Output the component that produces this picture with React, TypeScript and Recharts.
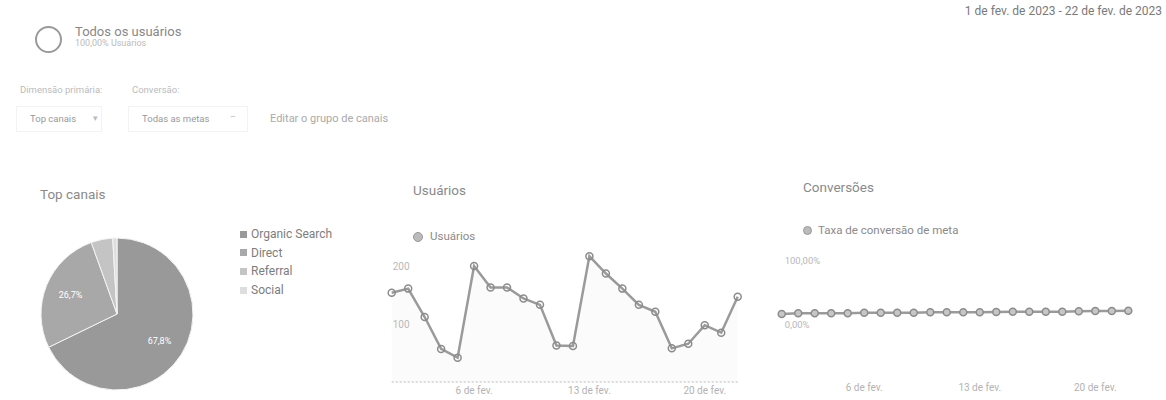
import React from 'react';
import { PieChart, Pie, Cell, AreaChart, Area, LineChart, Line, XAxis, YAxis } from 'recharts';

const dias = [
  '1 de fev.', '2 de fev.', '3 de fev.', '4 de fev.', '5 de fev.', '6 de fev.', '7 de fev.', '8 de fev.',
  '9 de fev.', '10 de fev.', '11 de fev.', '12 de fev.', '13 de fev.', '14 de fev.', '15 de fev.',
  '16 de fev.', '17 de fev.', '18 de fev.', '19 de fev.', '20 de fev.', '21 de fev.', '22 de fev.',
];
const usuarios = [154, 161, 112, 57, 42, 200, 163, 163, 144, 133, 63, 62, 217, 187, 161, 133, 121, 58, 66, 98, 85, 147];
const taxaConversao = [17.1, 18.1, 18.1, 18.1, 18.1, 19.2, 19.2, 19.2, 19.2, 19.7, 19.7, 19.7, 19.7, 20.2, 20.7, 20.7, 20.7, 20.7, 21.2, 21.8, 21.8, 22.3];
const xTicks = ['6 de fev.', '13 de fev.', '20 de fev.'];
const usuariosTicks = [100, 200];
const conversaoTicks = [0, 100];

const canais = ['Organic Search', 'Direct', 'Referral', 'Social'];
const canaisPct = [67.8, 26.7, 4.6, 0.9];
const canaisCores = ['#999999', '#a8a8a8', '#c4c4c4', '#dedede'];

const serie = dias.map((dia, i) => ({ dia, usuarios: usuarios[i], taxa: taxaConversao[i] }));
const pieData = canais.map((nome, i) => ({ nome, valor: canaisPct[i] }));

const FONT = 'Roboto, Arial, sans-serif';
const RAD = Math.PI / 180;

const dotStyle = { r: 3.5, fill: '#c6c6c6', stroke: '#8c8c8c', strokeWidth: 1.5 };

const pieLabel = (p: any) => {
  if (p.percent < 0.1) return null;
  const r = p.outerRadius * 0.66;
  const x = p.cx + r * Math.cos(-p.midAngle * RAD);
  const y = p.cy + r * Math.sin(-p.midAngle * RAD);
  return (
    <text x={x} y={y} fill="#fff" fontSize={9} fontFamily={FONT} textAnchor="middle" dominantBaseline="central">
      {p.value.toFixed(1).replace('.', ',')}%
    </text>
  );
};

const abs = (left: number, top: number, extra: React.CSSProperties = {}): React.CSSProperties => ({
  position: 'absolute', left, top, whiteSpace: 'nowrap', lineHeight: 1, ...extra,
});

export default function App() {
  return (
    <div style={{ position: 'absolute', left: 0, top: 0, width: 1166, height: 400, background: '#fff', overflow: 'hidden', fontFamily: FONT }}>
      {/* cabeçalho */}
      <div style={abs(35, 26, { width: 23, height: 23, border: '2px solid #9a9a9a', borderRadius: '50%' })} />
      <div style={abs(75, 25, { fontSize: 13, color: '#888' })}>Todos os usuários</div>
      <div style={abs(75, 39, { fontSize: 9, color: '#bbb' })}>100,00% Usuários</div>
      <div style={abs(0, 5, { width: 1162, textAlign: 'right', fontSize: 12, color: '#7a7a7a' })}>
        1 de fev. de 2023 - 22 de fev. de 2023
      </div>

      <div style={abs(20, 85, { fontSize: 9.5, color: '#bbb' })}>Dimensão primária:</div>
      <div style={abs(132, 85, { fontSize: 9.5, color: '#bbb' })}>Conversão:</div>
      <div style={abs(16, 106, { width: 84, height: 24, border: '1px solid #f3f3f3' })} />
      <div style={abs(30, 114, { fontSize: 9.5, color: '#999' })}>Top canais</div>
      <div style={abs(93, 114, { fontSize: 9, color: '#bbb' })}>▾</div>
      <div style={abs(128, 106, { width: 118, height: 24, border: '1px solid #f3f3f3' })} />
      <div style={abs(142, 114, { fontSize: 9.5, color: '#999' })}>Todas as metas</div>
      <div style={abs(230, 113, { fontSize: 9, color: '#bbb' })}>–</div>
      <div style={abs(270, 113, { fontSize: 11, color: '#aaa' })}>Editar o grupo de canais</div>

      {/* títulos */}
      <div style={abs(40, 188, { fontSize: 13.5, color: '#8a8a8a' })}>Top canais</div>
      <div style={abs(413, 184, { fontSize: 13.5, color: '#8a8a8a' })}>Usuários</div>
      <div style={abs(803, 181, { fontSize: 13.5, color: '#8a8a8a' })}>Conversões</div>

      {/* legenda pizza */}
      {canais.map((c, i) => (
        <div key={c} style={abs(240, 228 + i * 18.7, { fontSize: 12, color: '#7d7d7d', display: 'flex', alignItems: 'center' })}>
          <span style={{ display: 'inline-block', width: 7, height: 7, background: canaisCores[i], marginRight: 4 }} />
          {c}
        </div>
      ))}

      {/* legenda usuários */}
      <div style={abs(413, 231, { fontSize: 11.5, color: '#8a8a8a', display: 'flex', alignItems: 'center' })}>
        <span style={{ display: 'inline-block', width: 8, height: 8, borderRadius: '50%', background: '#bbb', border: '1px solid #999', marginRight: 7 }} />
        Usuários
      </div>
      {/* legenda conversões */}
      <div style={abs(803, 225, { fontSize: 11.5, color: '#8a8a8a', display: 'flex', alignItems: 'center' })}>
        <span style={{ display: 'inline-block', width: 7, height: 7, borderRadius: '50%', background: '#bbb', border: '1px solid #999', marginRight: 6 }} />
        Taxa de conversão de meta
      </div>

      <div style={abs(0, 215)}>
        <PieChart width={240} height={190} margin={{ top: 0, right: 0, bottom: 0, left: 0 }}>
          <Pie
            data={pieData}
            dataKey="valor"
            nameKey="nome"
            cx={117}
            cy={99}
            outerRadius={76}
            startAngle={90}
            endAngle={-270}
            stroke="#f4f4f4"
            strokeWidth={1}
            label={pieLabel}
            labelLine={false}
            isAnimationActive={false}
          >
            {pieData.map((d, i) => (
              <Cell key={d.nome} fill={canaisCores[i]} />
            ))}
          </Pie>
        </PieChart>
      </div>

      <div style={abs(370, 170)}>
        <AreaChart width={390} height={230} data={serie} margin={{ top: 75.7, right: 22.3, left: 21.7, bottom: 0 }}>
          <XAxis
            dataKey="dia"
            ticks={xTicks}
            interval={0}
            height={18}
            tickSize={0}
            tickMargin={5}
            axisLine={{ stroke: '#bbb', strokeDasharray: '2 2' }}
            tickLine={false}
            tick={{ fontSize: 10, fill: '#b3b3b3', fontFamily: FONT }}
          />
          <YAxis
            mirror
            width={40}
            domain={[0, 235]}
            ticks={usuariosTicks}
            interval={0}
            tickSize={0}
            tickMargin={1}
            axisLine={false}
            tickLine={false}
            tick={{ fontSize: 10, fill: '#b8b8b8', fontFamily: FONT }}
          />
          <Area
            type="linear"
            dataKey="usuarios"
            stroke="#9a9a9a"
            strokeWidth={2.5}
            fill="#000"
            fillOpacity={0.015}
            dot={dotStyle}
            isAnimationActive={false}
          />
        </AreaChart>
      </div>

      <div style={abs(770, 170)}>
        <LineChart width={396} height={230} data={serie} margin={{ top: 90.7, right: 37.7, left: 11.7, bottom: 0 }}>
          <XAxis
            dataKey="dia"
            ticks={xTicks}
            interval={0}
            height={75}
            tickSize={0}
            tickMargin={59}
            axisLine={false}
            tickLine={false}
            tick={{ fontSize: 10, fill: '#b3b3b3', fontFamily: FONT }}
          />
          <YAxis
            mirror
            width={50}
            domain={[0, 100]}
            allowDataOverflow
            ticks={conversaoTicks}
            interval={0}
            tickFormatter={(v: number) => `${v.toFixed(2).replace('.', ',')}%`}
            tickSize={0}
            tickMargin={3}
            axisLine={false}
            tickLine={false}
            tick={{ fontSize: 9.5, fill: '#b8b8b8', fontFamily: FONT }}
          />
          <Line
            type="linear"
            dataKey="taxa"
            stroke="#9a9a9a"
            strokeWidth={2.5}
            dot={dotStyle}
            isAnimationActive={false}
          />
        </LineChart>
      </div>
    </div>
  );
}
